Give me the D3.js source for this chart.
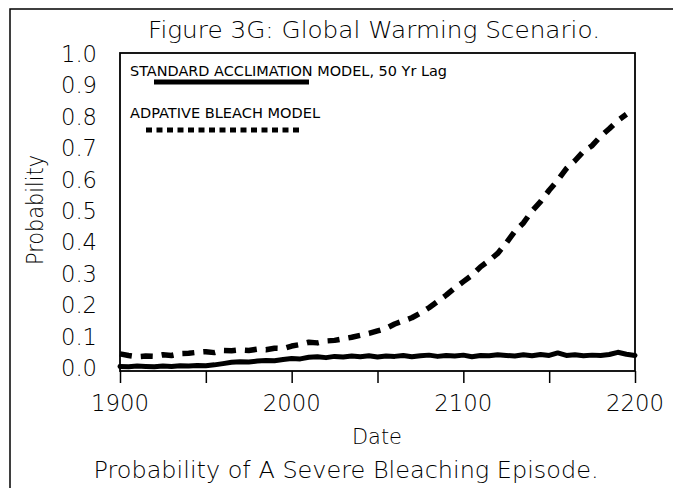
<!DOCTYPE html>
<html>
<head>
<meta charset="utf-8">
<script src="https://cdn.jsdelivr.net/npm/d3@7"></script>
<style>
  body { margin: 0; background: #fff; }
  svg text { font-family: "DejaVu Sans ExtraLight", "DejaVu Sans", sans-serif; font-weight: 200; fill: #000; }
  svg text.legend { font-family: "DejaVu Sans", sans-serif; font-weight: normal; }
</style>
</head>
<body>
<div id="chart"></div>
<script>
// years
const years = d3.range(1900, 2201, 5);
const yearsAdaptive = d3.range(1900, 2196, 5);

// STANDARD ACCLIMATION MODEL, 50 Yr Lag (solid)
const standardValues = [
  0.005, 0.004, 0.006, 0.005, 0.004, 0.006, 0.005, 0.007, 0.006, 0.008,
  0.007, 0.010, 0.014, 0.018, 0.020, 0.019, 0.022, 0.024, 0.023, 0.027,
  0.030, 0.029, 0.034, 0.036, 0.033, 0.037, 0.035, 0.038, 0.036, 0.039,
  0.035, 0.038, 0.037, 0.040, 0.036, 0.039, 0.041, 0.037, 0.040, 0.038,
  0.041, 0.036, 0.040, 0.039, 0.042, 0.040, 0.038, 0.042, 0.039, 0.043,
  0.040, 0.048, 0.040, 0.042, 0.039, 0.041, 0.040, 0.043, 0.050, 0.044,
  0.040
];

// ADPATIVE BLEACH MODEL (dashed)
const adaptiveValues = [
  0.045, 0.040, 0.036, 0.038, 0.037, 0.042, 0.040, 0.046, 0.047, 0.050,
  0.052, 0.049, 0.056, 0.055, 0.058, 0.056, 0.060, 0.058, 0.063, 0.062,
  0.070, 0.075, 0.082, 0.080, 0.086, 0.088, 0.093, 0.098, 0.104, 0.110,
  0.118, 0.126, 0.140, 0.150, 0.160, 0.175, 0.192, 0.212, 0.232, 0.255,
  0.275, 0.295, 0.322, 0.342, 0.365, 0.398, 0.435, 0.462, 0.500, 0.530,
  0.566, 0.598, 0.635, 0.660, 0.690, 0.708, 0.738, 0.762, 0.788, 0.808
];

const yTicks = [0, 0.1, 0.2, 0.3, 0.4, 0.5, 0.6, 0.7, 0.8, 0.9, 1.0];
const xLabels = [1900, 2000, 2100, 2200];
const legendLabels = ["STANDARD ACCLIMATION MODEL, 50 Yr Lag", "ADPATIVE BLEACH MODEL"];

const width = 673, height = 488;
const svg = d3.select("#chart").append("svg")
  .attr("width", width)
  .attr("height", height);

// outer panel border (runs off the right/bottom edges)
svg.append("rect")
  .attr("x", 10).attr("y", 9)
  .attr("width", 700).attr("height", 500)
  .attr("fill", "none").attr("stroke", "#000").attr("stroke-width", 1.5);

let x = d3.scaleLinear().domain([1900, 2200]).range([120, 635]);
let y = d3.scaleLinear().domain([0, 1]).range([368, 54]);

// plot frame
svg.append("rect")
  .attr("x", 120).attr("y", 53)
  .attr("width", 515).attr("height", 318)
  .attr("fill", "none").attr("stroke", "#000").attr("stroke-width", 1.8);

// minor + major ticks along the bottom
let axisG = svg.append("g").attr("transform", "translate(0,371)");
axisG.call(d3.axisBottom(x).tickValues(d3.range(1900, 2201, 10)).tickSize(6).tickFormat(""));
axisG.call(d3.axisBottom(x).tickValues(d3.range(1900, 2201, 50)).tickSize(12).tickFormat(""));
axisG.select(".domain").remove();
axisG.selectAll("line").attr("stroke", "#000").attr("stroke-width", 1.5);

svg.selectAll(".xlab")
  .data(xLabels)
  .enter().append("text")
  .attr("class", "xlab")
  .attr("x", d => x(d))
  .attr("y", 411)
  .attr("text-anchor", "middle")
  .attr("font-size", 23)
  .attr("textLength", 58)
  .attr("lengthAdjust", "spacingAndGlyphs")
  .text(d => d);

svg.selectAll(".ylab")
  .data(yTicks)
  .enter().append("text")
  .attr("class", "ylab")
  .attr("x", 97)
  .attr("y", d => y(d) + 8)
  .attr("text-anchor", "end")
  .attr("font-size", 23)
  .attr("textLength", 36)
  .attr("lengthAdjust", "spacingAndGlyphs")
  .text(d => d.toFixed(1));

// titles
svg.append("text")
  .attr("x", 374).attr("y", 38)
  .attr("text-anchor", "middle")
  .attr("font-size", 23)
  .attr("textLength", 452)
  .attr("lengthAdjust", "spacingAndGlyphs")
  .text("Figure 3G: Global Warming Scenario.");

svg.append("text")
  .attr("x", 377).attr("y", 444)
  .attr("text-anchor", "middle")
  .attr("font-size", 22)
  .attr("textLength", 50)
  .attr("lengthAdjust", "spacingAndGlyphs")
  .text("Date");

svg.append("text")
  .attr("x", 346).attr("y", 478)
  .attr("text-anchor", "middle")
  .attr("font-size", 23)
  .attr("textLength", 505)
  .attr("lengthAdjust", "spacingAndGlyphs")
  .text("Probability of A Severe Bleaching Episode.");

svg.append("text")
  .attr("transform", "translate(43,210) rotate(-90)")
  .attr("text-anchor", "middle")
  .attr("font-size", 23)
  .attr("textLength", 110)
  .attr("lengthAdjust", "spacingAndGlyphs")
  .text("Probability");

// series
let line = d3.line()
  .x(d => x(d[0]))
  .y(d => y(d[1]))
  .curve(d3.curveLinear);

svg.append("path")
  .datum(years.map((yr, i) => [yr, standardValues[i]]))
  .attr("d", line)
  .attr("fill", "none")
  .attr("stroke", "#000")
  .attr("stroke-width", 5)
  .attr("stroke-linejoin", "round")
  .attr("stroke-linecap", "round");

svg.append("path")
  .datum(yearsAdaptive.map((yr, i) => [yr, adaptiveValues[i]]))
  .attr("d", line)
  .attr("fill", "none")
  .attr("stroke", "#000")
  .attr("stroke-width", 5.5)
  .attr("stroke-dasharray", "12,9")
  .attr("stroke-linejoin", "round");

// legend
svg.append("text")
  .attr("class", "legend")
  .attr("x", 130).attr("y", 76)
  .attr("font-size", 13.5)
  .attr("textLength", 317)
  .attr("lengthAdjust", "spacingAndGlyphs")
  .text(legendLabels[0]);
svg.append("line")
  .attr("x1", 154).attr("x2", 309)
  .attr("y1", 82).attr("y2", 82)
  .attr("stroke", "#000").attr("stroke-width", 5);

svg.append("text")
  .attr("class", "legend")
  .attr("x", 130).attr("y", 118)
  .attr("font-size", 13.5)
  .attr("textLength", 190)
  .attr("lengthAdjust", "spacingAndGlyphs")
  .text(legendLabels[1]);
svg.append("line")
  .attr("x1", 146).attr("x2", 303)
  .attr("y1", 130).attr("y2", 130)
  .attr("stroke", "#000").attr("stroke-width", 5)
  .attr("stroke-dasharray", "6,4.5");
</script>
</body>
</html>
